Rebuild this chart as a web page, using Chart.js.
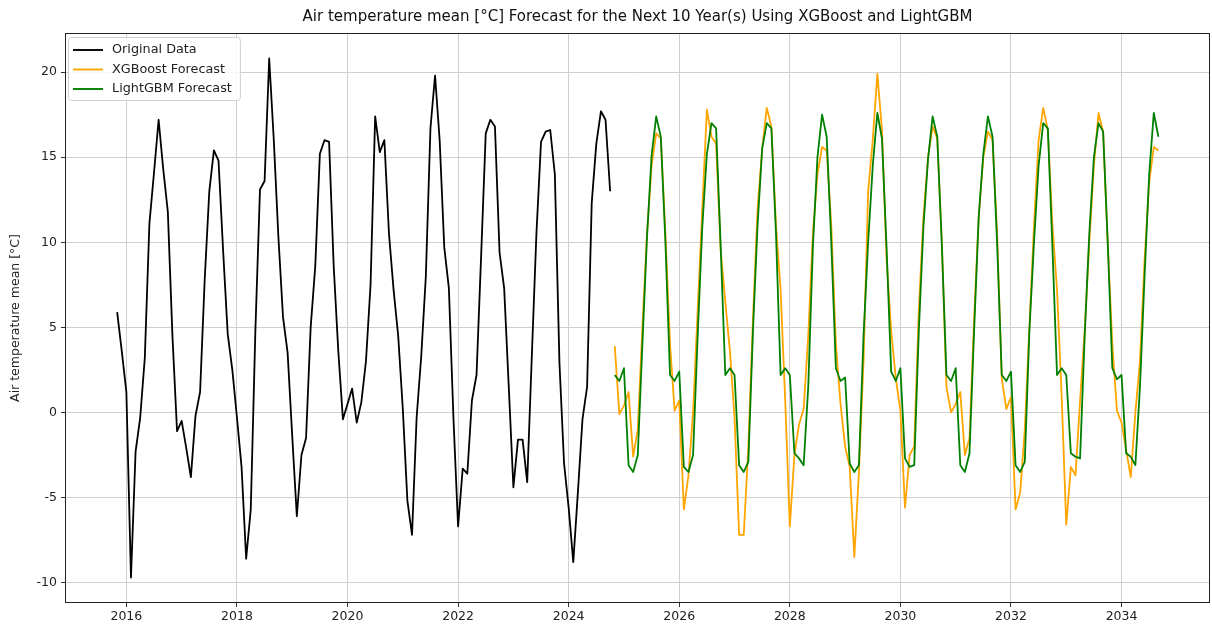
<!DOCTYPE html>
<html>
<head>
<meta charset="utf-8">
<title>Air temperature forecast</title>
<script src="https://cdn.jsdelivr.net/npm/chart.js@4.4.1/dist/chart.umd.min.js"></script>
<style>
  html, body { margin: 0; padding: 0; background: #fff; }
  canvas { display: block; }
</style>
</head>
<body>
<canvas id="grafico" width="1212" height="626"></canvas>
<script>
// first month (year, month) of each monthly series
const originalStart = [2015, 10];
const forecastStart = [2024, 10];

const originalData = [
    5.9, 3.6, 1.2, -9.7, -2.3, -0.3, 3.2, 11.1, 14.1, 17.2, 14.3, 11.8,
    4.5, -1.1, -0.5, -2.1, -3.8, -0.2, 1.2, 7.8, 13.0, 15.4, 14.8, 9.5,
    4.6, 2.5, -0.3, -3.2, -8.6, -5.7, 4.8, 13.1, 13.6, 20.8, 16.0, 10.3,
    5.6, 3.5, -1.4, -6.1, -2.5, -1.5, 5.0, 8.6, 15.2, 16.0, 15.9, 8.6,
    3.6, -0.4, 0.5, 1.4, -0.6, 0.6, 3.0, 7.5, 17.4, 15.3, 16.0, 10.5,
    7.2, 4.5, 0.2, -5.2, -7.2, -0.3, 3.3, 8.0, 16.7, 19.8, 16.0, 9.7,
    7.3, -0.4, -6.7, -3.3, -3.6, 0.7, 2.2, 9.2, 16.4, 17.2, 16.8, 9.4,
    7.3, 1.5, -4.4, -1.6, -1.6, -4.1, 3.3, 10.5, 15.9, 16.5, 16.6, 14.0,
    2.9, -3.0, -5.6, -8.8, -4.7, -0.4, 1.5, 12.3, 15.8, 17.7, 17.2, 13.0
];

const xgboostForecast = [
    3.9, -0.1, 0.4, 1.2, -2.6, -1.0, 5.0, 10.5, 14.5, 16.4, 16.1, 10.5,
    4.0, 0.1, 0.7, -5.7, -3.7, 0.0, 6.0, 12.0, 17.8, 16.2, 15.8, 9.5,
    6.5, 3.6, -0.3, -7.2, -7.2, -2.0, 5.5, 12.0, 15.5, 17.9, 16.8, 11.0,
    7.2, 0.7, -6.7, -2.5, -0.7, 0.2, 4.5, 10.5, 14.0, 15.6, 15.4, 11.0,
    4.0, 0.5, -2.0, -3.2, -8.5, -3.5, 3.0, 13.0, 16.0, 19.9, 16.6, 9.0,
    4.8, 2.0, 0.1, -5.6, -2.5, -2.0, 6.0, 11.5, 15.0, 16.8, 16.1, 10.0,
    1.5, 0.0, 0.5, 1.2, -2.5, -1.5, 5.5, 11.5, 15.0, 16.5, 16.0, 10.5,
    2.0, 0.2, 0.9, -5.7, -4.7, -1.0, 5.0, 11.0, 16.0, 17.9, 16.6, 11.0,
    7.2, 1.0, -6.6, -3.2, -3.7, 0.7, 4.8, 10.0, 14.5, 17.6, 16.5, 10.0,
    4.0, 0.1, -0.6, -2.2, -3.8, 0.0, 3.0, 9.0, 13.5, 15.6, 15.4
];

const lightgbmForecast = [
    2.2, 1.85, 2.6, -3.1, -3.5, -2.5, 4.0, 10.3, 15.1, 17.4, 16.2, 10.0,
    2.2, 1.85, 2.4, -3.2, -3.5, -2.5, 4.5, 10.9, 15.2, 17.0, 16.7, 9.7,
    2.2, 2.6, 2.2, -3.1, -3.5, -2.9, 4.8, 11.0, 15.5, 17.0, 16.7, 10.5,
    2.2, 2.6, 2.2, -2.4, -2.7, -3.1, 1.5, 9.7, 15.0, 17.5, 16.2, 10.0,
    2.6, 1.85, 2.05, -3.0, -3.5, -3.1, 4.5, 10.0, 14.5, 17.6, 16.1, 9.7,
    2.4, 1.85, 2.6, -2.7, -3.2, -3.1, 4.8, 10.9, 14.9, 17.4, 16.2, 9.8,
    2.2, 1.85, 2.6, -3.1, -3.5, -2.4, 4.8, 11.5, 15.2, 17.4, 16.2, 9.9,
    2.2, 1.85, 2.4, -3.1, -3.5, -2.9, 4.8, 10.0, 14.5, 17.0, 16.7, 9.7,
    2.2, 2.6, 2.2, -2.4, -2.6, -2.7, 4.5, 10.5, 15.0, 17.0, 16.5, 10.0,
    2.6, 1.95, 2.2, -2.4, -2.6, -3.1, 1.5, 8.0, 14.0, 17.6, 16.2
];

const xTicks = [2016, 2018, 2020, 2022, 2024, 2026, 2028, 2030, 2032, 2034];
const yTicks = [-10, -5, 0, 5, 10, 15, 20];

// month i of a series -> decimal year (end of month)
function monthToYear(start, i) {
    return start[0] + (start[1] + i) / 12;
}

function toPoints(start, values) {
    return values.map((v, i) => ({ x: monthToYear(start, i), y: v }));
}

Chart.defaults.font.family = '"DejaVu Sans", sans-serif';
Chart.defaults.color = '#222';

// title centred over the plot, like matplotlib
const titleOverPlot = {
    id: 'titleOverPlot',
    afterLayout(chart) {
        const t = chart.titleBlock;
        if (!t) return;
        t.left = chart.chartArea.left;
        t.right = chart.chartArea.right;
    }
};

// box round the plot area
const frame = {
    id: 'frame',
    afterDraw(chart) {
        const { ctx, chartArea: a } = chart;
        ctx.save();
        ctx.strokeStyle = '#222';
        ctx.lineWidth = 1;
        ctx.strokeRect(a.left + 0.5, a.top + 0.5, a.right - a.left - 1, a.bottom - a.top - 1);
        ctx.restore();
    }
};

// legend drawn inside the upper left corner
const innerLegend = {
    id: 'innerLegend',
    afterDraw(chart) {
        const { ctx, chartArea: a } = chart;
        const items = chart.data.datasets;
        ctx.save();
        ctx.font = '12.8px "DejaVu Sans", sans-serif';
        const textW = Math.max(...items.map(d => ctx.measureText(d.label).width));
        const x = a.left + 3;
        const y = a.top + 4;
        const w = 45 + textW + 7;
        const h = 63;

        ctx.beginPath();
        ctx.roundRect(x + 0.5, y + 0.5, w, h, 3);
        ctx.fillStyle = 'rgba(255,255,255,0.85)';
        ctx.fill();
        ctx.strokeStyle = '#d0d0d0';
        ctx.lineWidth = 1;
        ctx.stroke();

        items.forEach((d, k) => {
            const cy = y + 13 + k * 19.5;
            ctx.strokeStyle = d.borderColor;
            ctx.lineWidth = 1.9;
            ctx.beginPath();
            ctx.moveTo(x + 5, cy);
            ctx.lineTo(x + 35, cy);
            ctx.stroke();
            ctx.fillStyle = '#222';
            ctx.textBaseline = 'middle';
            ctx.textAlign = 'left';
            ctx.fillText(d.label, x + 44, cy);
        });
        ctx.restore();
    }
};

function criarGrafico() {
    const ctx = document.getElementById('grafico').getContext('2d');

    new Chart(ctx, {
        type: 'line',
        data: {
            datasets: [
                {
                    label: 'Original Data',
                    data: toPoints(originalStart, originalData),
                    borderColor: '#000000',
                    order: 2
                },
                {
                    label: 'XGBoost Forecast',
                    data: toPoints(forecastStart, xgboostForecast),
                    borderColor: '#FFA500',
                    order: 1
                },
                {
                    label: 'LightGBM Forecast',
                    data: toPoints(forecastStart, lightgbmForecast),
                    borderColor: '#008000',
                    order: 0
                }
            ]
        },
        options: {
            responsive: false,
            animation: false,
            devicePixelRatio: 1,
            layout: { padding: { left: 0, right: 2, top: 0, bottom: 0 } },
            elements: {
                point: { radius: 0 },
                line: { borderWidth: 1.8, tension: 0, fill: false, borderJoinStyle: 'round' }
            },
            plugins: {
                legend: { display: false },
                tooltip: { enabled: false },
                title: {
                    display: true,
                    text: 'Air temperature mean [°C] Forecast for the Next 10 Year(s) Using XGBoost and LightGBM',
                    color: '#111',
                    font: { size: 15, weight: 'normal' },
                    padding: { top: 8, bottom: 7 }
                }
            },
            scales: {
                x: {
                    type: 'linear',
                    min: 2014.89,
                    max: 2035.6,
                    afterBuildTicks: s => { s.ticks = xTicks.map(v => ({ value: v })); },
                    afterFit: s => { s.height = 23; },
                    grid: { color: '#d0d0d0', tickColor: '#333', tickLength: 4 },
                    border: { display: false },
                    ticks: {
                        color: '#222',
                        font: { size: 12.5 },
                        padding: 2,
                        maxRotation: 0,
                        callback: v => String(v)
                    }
                },
                y: {
                    min: -11.2,
                    max: 22.3,
                    afterBuildTicks: s => { s.ticks = yTicks.map(v => ({ value: v })); },
                    afterFit: s => { s.width = 65; },
                    grid: { color: '#d0d0d0', tickColor: '#333', tickLength: 4 },
                    border: { display: false },
                    title: {
                        display: true,
                        text: 'Air temperature mean [°C]',
                        color: '#222',
                        font: { size: 12.5 },
                        padding: { top: 8, bottom: 0 }
                    },
                    ticks: {
                        color: '#222',
                        font: { size: 12.5 },
                        padding: 4,
                        callback: v => String(v)
                    }
                }
            }
        },
        plugins: [titleOverPlot, frame, innerLegend]
    });
}

criarGrafico();
</script>
</body>
</html>
